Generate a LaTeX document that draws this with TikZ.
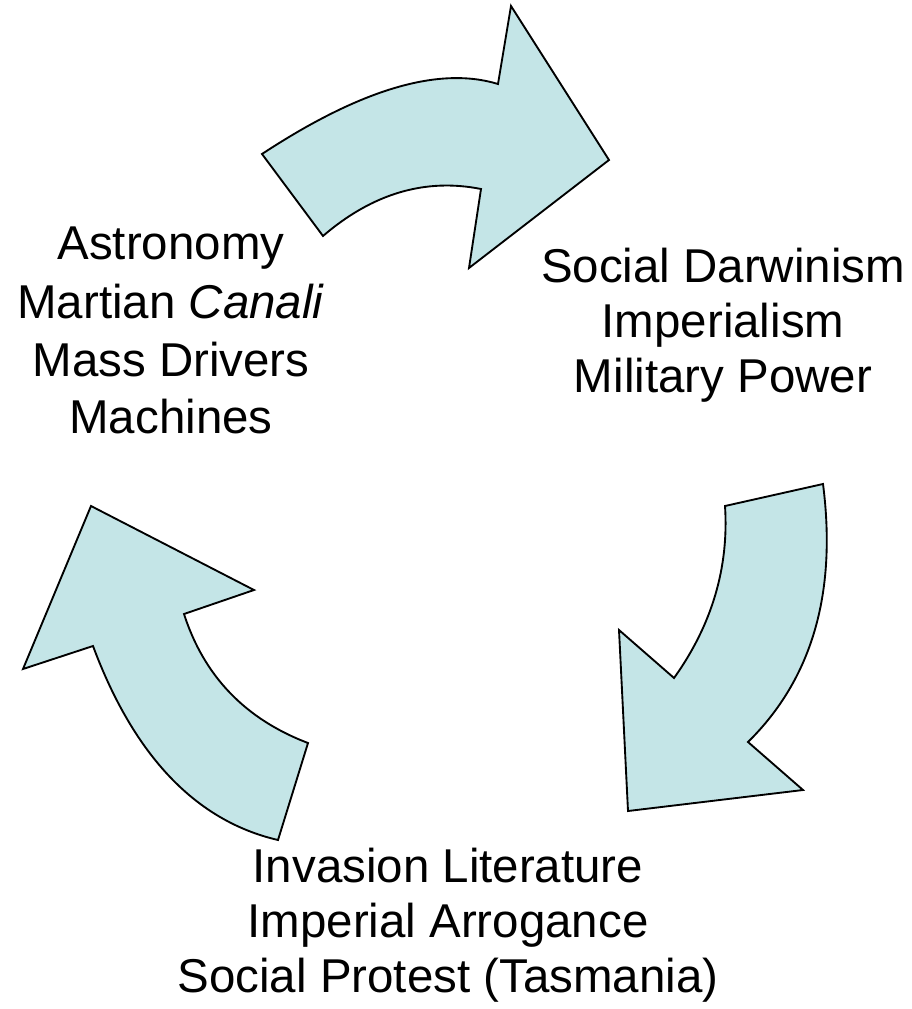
\documentclass[tikz,border=0pt]{standalone}
\usepackage{fontspec}
\setmainfont{Liberation Sans}
\definecolor{arrowfill}{RGB}{196,229,231}
\begin{document}
\begin{tikzpicture}[x=0.75pt,y=-0.75pt,
  cyclearrow/.style={draw=black,line width=1.4pt,fill=arrowfill,line join=miter},
  lbl/.style={anchor=base,inner sep=0pt,font=\fontsize{35.6pt}{42pt}\selectfont}]
\useasboundingbox (0,0) rectangle (911,1009);
% top arrow
\path[cyclearrow] (262,154) .. controls (361,89) and (439,66) .. (498,84)
  -- (511,6) -- (609,160) -- (469,268) -- (481,189)
  .. controls (426,178) and (373,193) .. (323,236) -- cycle;
% right arrow
\path[cyclearrow] (823,484) -- (725,506)
  .. controls (729,567) and (712,625) .. (674,678)
  -- (619,630) -- (628,811) -- (803,790) -- (748,742)
  .. controls (812,679) and (837,593) .. (823,484) -- cycle;
% left arrow
\path[cyclearrow] (308,743) -- (278,840)
  .. controls (196,821) and (134,756) .. (93,646)
  -- (23,669) -- (91,506) -- (254,590) -- (184,614)
  .. controls (204,676) and (245,719) .. (308,743) -- cycle;
% left text
\node[lbl] (a1) at (171,259) {Astronomy};
\node[lbl] (a2) at (171,318) {Martian \textit{Canali}};
\node[lbl] (a3) at (171,376) {Mass Drivers};
\node[lbl] (a4) at (171,433) {Machines};
% right text
\node[lbl] (b1) at (723,282) {Social Darwinism};
\node[lbl] (b2) at (723,337) {Imperialism};
\node[lbl] (b3) at (723,392) {Military Power};
% bottom text
\node[lbl] (c1) at (448,882) {Invasion Literature};
\node[lbl] (c2) at (448,937) {Imperial Arrogance};
\node[lbl] (c3) at (448,992) {Social Protest (Tasmania)};
\end{tikzpicture}
\end{document}
